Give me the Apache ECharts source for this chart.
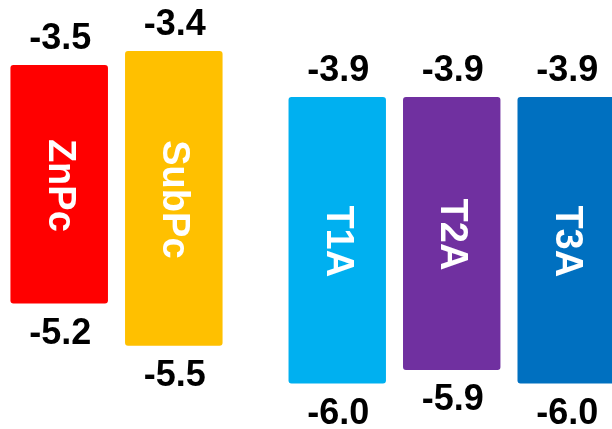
<!DOCTYPE html>
<html>
<head>
<meta charset="utf-8">
<script src="https://cdn.jsdelivr.net/npm/echarts@6/dist/echarts.min.js"></script>
<style>
html,body{margin:0;padding:0;background:#fff;}
#chart{width:612px;height:429px;}
</style>
</head>
<body>
<div id="chart"></div>
<script>
// Energy levels (eV)
const donorNames = ['ZnPc', 'SubPc'];
const donorLUMO = [-3.5, -3.4];
const donorHOMO = [-5.2, -5.5];
const acceptorNames = ['T1A', 'T2A', 'T3A'];
const acceptorLUMO = [-3.9, -3.9, -3.9];
const acceptorHOMO = [-6.0, -5.9, -6.0];
const donorColors = ['#FF0000', '#FFC000'];
const acceptorColors = ['#00B0F0', '#7030A0', '#0070C0'];

const FONT = '"Liberation Sans", Arial, Helvetica, sans-serif';

function makeRender(names, colors) {
  return function (params, api) {
    const i = params.dataIndex;
    const lumo = api.value(1), homo = api.value(2);
    const top = api.coord([api.value(0), lumo]);
    const bot = api.coord([api.value(0), homo]);
    const w = api.size([1, 0])[0] * 0.851;
    return {
      type: 'group',
      children: [
        { type: 'rect', shape: { x: top[0] - w / 2, y: top[1], width: w, height: bot[1] - top[1], r: 3 },
          style: { fill: colors[i] } },
        { type: 'text', x: top[0], y: (top[1] + bot[1]) / 2 + 1, rotation: -Math.PI / 2,
          style: { text: names[i], fill: '#fff', fontSize: 38, fontWeight: 'bold', fontFamily: FONT,
                   align: 'center', verticalAlign: 'middle' } },
        { type: 'text', x: top[0] + 1, y: top[1] - 26,
          style: { text: lumo.toFixed(1), fill: '#000', fontSize: 36, fontWeight: 'bold', fontFamily: FONT,
                   align: 'center', verticalAlign: 'middle' } },
        { type: 'text', x: bot[0] + 1, y: bot[1] + 30,
          style: { text: homo.toFixed(1), fill: '#000', fontSize: 36, fontWeight: 'bold', fontFamily: FONT,
                   align: 'center', verticalAlign: 'middle' } }
      ]
    };
  };
}

const chart = echarts.init(document.getElementById('chart'), null, { renderer: 'canvas' });
chart.setOption({
  backgroundColor: '#fff',
  animation: false,
  grid: [
    { left: 1.9, top: 23.0, width: 229.2, height: 364.8 },
    { left: 280, top: 42.4, width: 332, height: 368.5 }
  ],
  xAxis: [
    { type: 'category', gridIndex: 0, data: donorNames, show: false },
    { type: 'value', gridIndex: 1, min: -0.5, max: 2.4, show: false }
  ],
  yAxis: [
    { type: 'value', gridIndex: 0, min: -5.8, max: -3.2, show: false },
    { type: 'value', gridIndex: 1, min: -6.2, max: -3.5, show: false }
  ],
  series: [
    { type: 'custom', xAxisIndex: 0, yAxisIndex: 0, clip: false,
      renderItem: makeRender(donorNames, donorColors),
      data: donorNames.map((n, i) => [i, donorLUMO[i], donorHOMO[i]]) },
    { type: 'custom', xAxisIndex: 1, yAxisIndex: 1, clip: false,
      renderItem: makeRender(acceptorNames, acceptorColors),
      data: acceptorNames.map((n, i) => [i, acceptorLUMO[i], acceptorHOMO[i]]) }
  ]
});
</script>
</body>
</html>
